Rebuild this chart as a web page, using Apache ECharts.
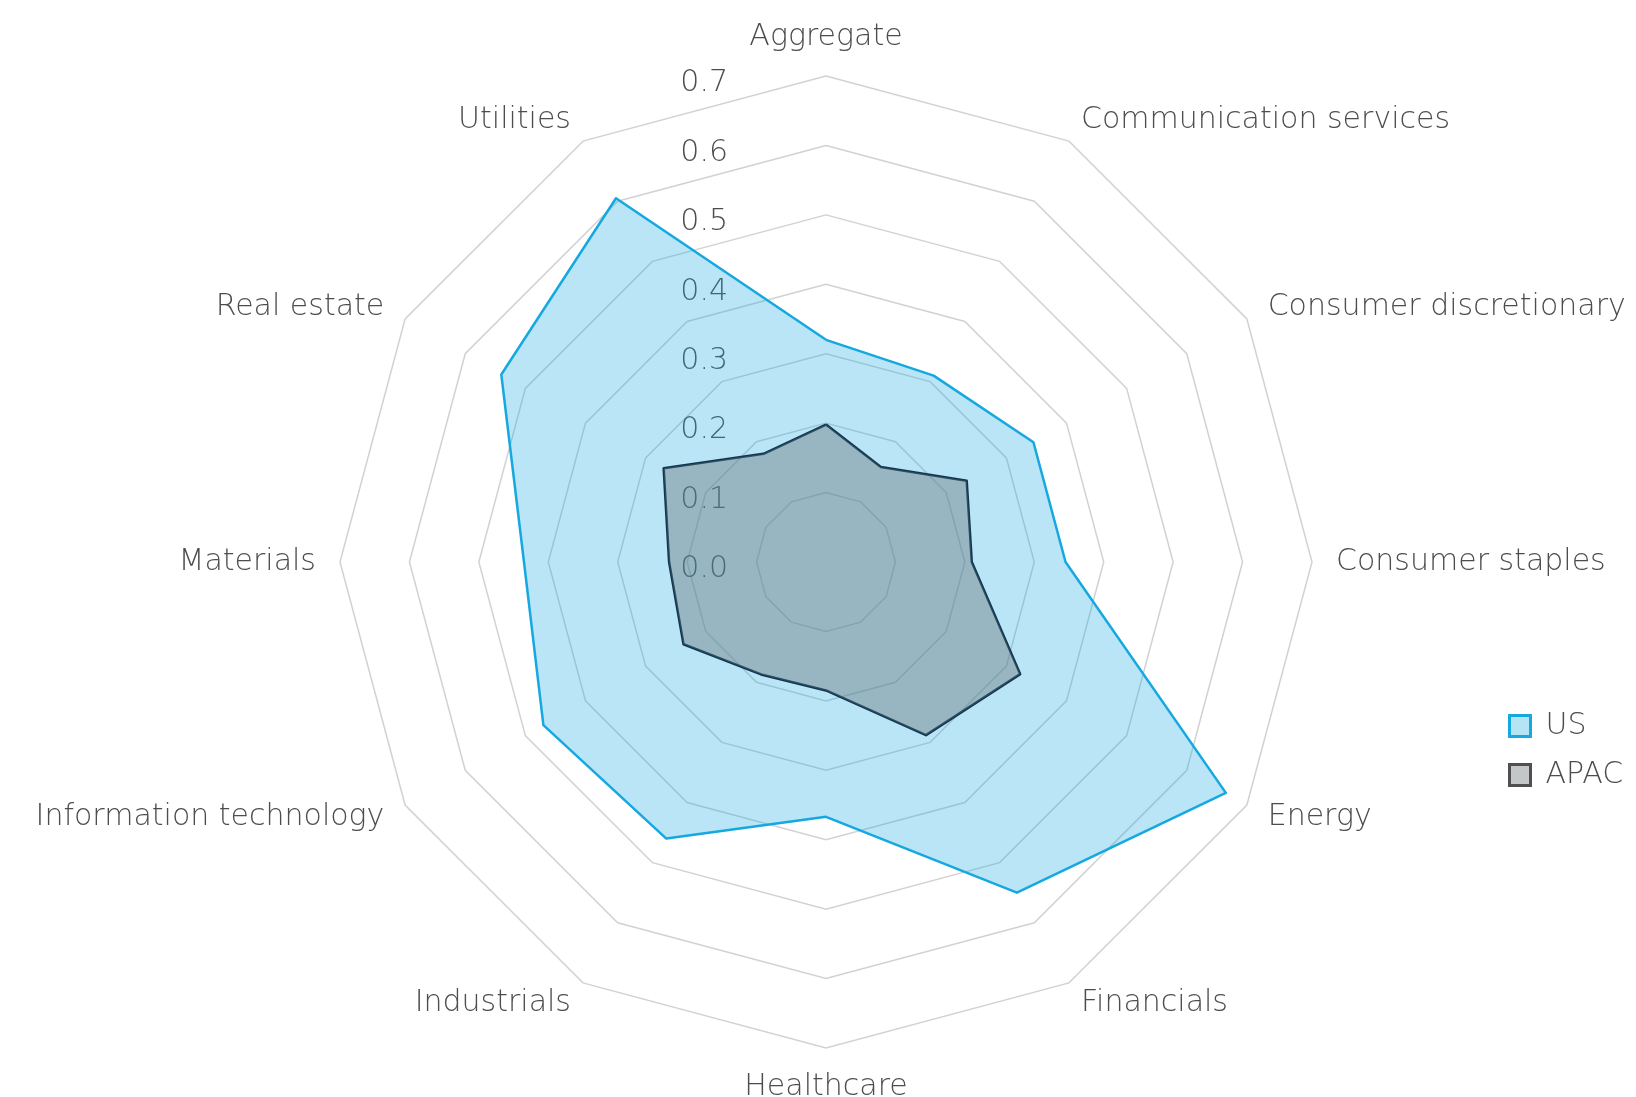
<!DOCTYPE html>
<html>
<head>
<meta charset="utf-8">
<script src="https://cdn.jsdelivr.net/npm/echarts@6/dist/echarts.min.js"></script>
<style>
  html, body { margin: 0; padding: 0; background: #fff; }
  #chart { width: 1636px; height: 1097px; }
</style>
</head>
<body>
<div id="chart"></div>
<script>
  // sectors, clockwise from the top
  var sectors = ['Aggregate', 'Communication services', 'Consumer discretionary', 'Consumer staples',
    'Energy', 'Financials', 'Healthcare', 'Industrials', 'Information technology',
    'Materials', 'Real estate', 'Utilities'];
  var usValues   = [0.32, 0.31, 0.345, 0.345, 0.665, 0.55, 0.367, 0.46, 0.47, 0.435, 0.54, 0.605];
  var apacValues = [0.198, 0.158, 0.234, 0.21, 0.323, 0.288, 0.185, 0.187, 0.237, 0.226, 0.27, 0.18];
  var axisMin = 0, axisMax = 0.7, axisStep = 0.1;

  var txt = '#4d4d4d';
  var font = '"DejaVu Sans", sans-serif';
  var fw = 200;
  var fs = 30;

  // echarts lays radar indicators out counter-clockwise, so flip everything after the first one
  function clockwise(arr) {
    return [arr[0]].concat(arr.slice(1).reverse());
  }

  var indicator = clockwise(sectors).map(function (s) {
    return { name: s, min: axisMin, max: axisMax };
  });

  var chart = echarts.init(document.getElementById('chart'));
  var option = {
    backgroundColor: '#fff',
    textStyle: { fontFamily: font, fontWeight: fw },
    legend: {
      orient: 'vertical',
      left: 1503,
      top: 706,
      itemWidth: 21,
      itemHeight: 21,
      itemGap: 19,
      icon: 'rect',
      textStyle: { color: txt, fontSize: fs, fontFamily: font, fontWeight: fw, padding: [0, 0, 0, 10] },
      data: [
        { name: 'US', itemStyle: { color: '#b5e4f5', borderColor: '#16a8e0', borderWidth: 3 } },
        { name: 'APAC', itemStyle: { color: '#c4c7c7', borderColor: '#505050', borderWidth: 3 } }
      ]
    },
    radar: {
      center: [826, 562],
      radius: 486,
      startAngle: 90,
      shape: 'polygon',
      splitNumber: 7,
      indicator: indicator,
      nameGap: 24,
      axisName: { color: txt, fontSize: fs, fontFamily: font, fontWeight: fw },
      axisLine: { show: false },
      axisTick: { show: false },
      axisLabel: { show: false },
      splitArea: { show: false },
      splitLine: { lineStyle: { color: '#d2d2d2', width: 1.5 } }
    },
    // polar system only to print the value labels next to the top axis
    polar: { center: [826, 562], radius: 486 },
    angleAxis: {
      show: false, startAngle: 90, min: 0, max: 360
    },
    radiusAxis: {
      min: axisMin, max: axisMax, interval: axisStep,
      z: 1,
      axisLine: { show: false },
      axisTick: { show: false },
      splitLine: { show: false },
      axisLabel: {
        color: txt, fontSize: fs, fontFamily: font, fontWeight: fw, margin: 98,
        verticalAlign: 'middle',
        formatter: function (v) { return '{a|' + v.toFixed(1) + '}'; },
        rich: {
          a: { color: txt, fontSize: fs, fontFamily: font, fontWeight: fw, padding: [15, 0, 0, 0] }
        }
      }
    },
    series: [
      {
        name: 'US',
        type: 'radar',
        z: 3,
        symbol: 'none',
        lineStyle: { color: '#16a8e0', width: 2.5 },
        itemStyle: { color: '#16a8e0' },
        areaStyle: { color: '#16a8e0', opacity: 0.3 },
        data: [{ name: 'US', value: clockwise(usValues) }]
      },
      {
        name: 'APAC',
        type: 'radar',
        z: 4,
        symbol: 'none',
        lineStyle: { color: '#0f3652', width: 2.5 },
        itemStyle: { color: '#0f3652' },
        areaStyle: { color: '#647073', opacity: 0.4 },
        data: [{ name: 'APAC', value: clockwise(apacValues) }]
      }
    ]
  };
  chart.setOption(option);
</script>
</body>
</html>
